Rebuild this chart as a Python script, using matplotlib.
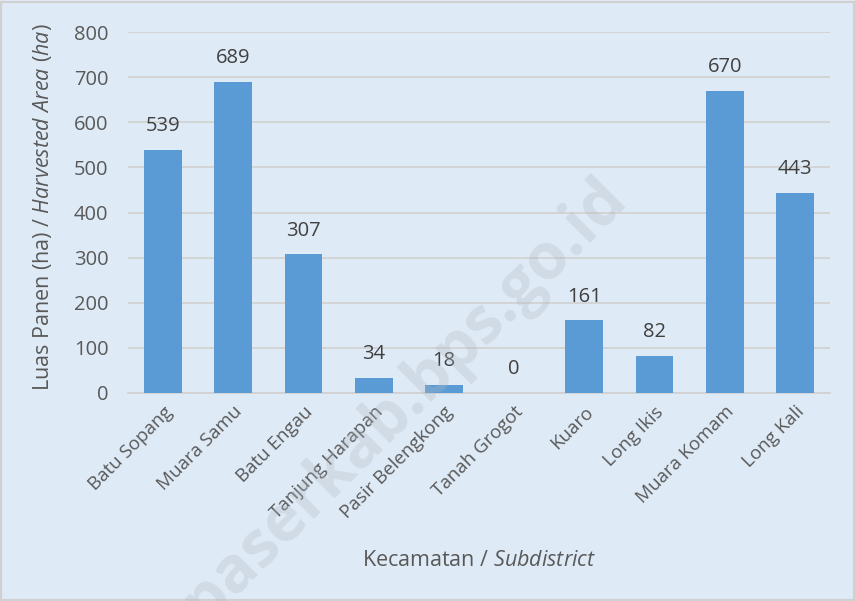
import matplotlib
matplotlib.use("Agg")
import matplotlib.pyplot as plt
from matplotlib.patches import Rectangle

categories = ["Batu Sopang", "Muara Samu", "Batu Engau", "Tanjung Harapan",
              "Pasir Belengkong", "Tanah Grogot", "Kuaro", "Long Ikis",
              "Muara Komam", "Long Kali"]
values = [539, 689, 307, 34, 18, 0, 161, 82, 670, 443]
yticks = [0, 100, 200, 300, 400, 500, 600, 700, 800]

plt.rcParams['font.family'] = ['Open Sans', 'DejaVu Sans']
plt.rcParams['mathtext.fontset'] = 'custom'
plt.rcParams['mathtext.rm'] = 'Open Sans'
plt.rcParams['mathtext.it'] = 'Open Sans:italic'

bg = '#DEEAF6'
fig = plt.figure(figsize=(8.55, 6.01), dpi=100, facecolor=bg)
fig.patches.append(Rectangle((0.001, 0.001), 0.998, 0.996, transform=fig.transFigure,
                             fill=False, edgecolor='#D0D0D0', linewidth=1.5))
ax = fig.add_axes([128/855, 1-393/601, (830-128)/855, (393-32)/601])
ax.set_facecolor(bg)

x = range(len(categories))
bars = ax.bar(x, values, width=0.54, color='#5B9BD5', zorder=3)
for xi, v in zip(x, values):
    ax.annotate(f"{v}", (xi, v), xytext=(0, 17), textcoords='offset points',
                ha='center', va='center', fontsize=14.5, color='#404040')

ax.set_xlim(-0.5, len(categories) - 0.5)
ax.set_ylim(0, 800)
ax.set_yticks(yticks)
ax.set_yticklabels([str(t) for t in yticks], fontsize=14.5, color='#595959')
ax.set_xticks(list(x))
ax.set_xticklabels(categories, rotation=45, ha='right', rotation_mode='anchor',
                   fontsize=13.5, color='#595959')
ax.tick_params(axis='y', length=0, pad=14)
ax.tick_params(axis='x', length=0, pad=7)
ax.grid(axis='y', color='#D0D0D0', linewidth=1.2, zorder=0)
for s in ['top', 'right', 'left']:
    ax.spines[s].set_visible(False)
ax.spines['bottom'].set_color('#D0D0D0')
ax.spines['bottom'].set_linewidth(1.2)

fig.text(42/855, 1-207/601, r"Luas Panen (ha) / $\mathit{Harvested\ Area\ (ha)}$",
         rotation=90, ha='center', va='center', fontsize=15.5, color='#595959')
fig.text(479/855, 1-560/601, r"Kecamatan / $\mathit{Subdistrict}$",
         ha='center', va='center', fontsize=15.5, color='#595959')

fig.text(405/855, 1-400/601, "paserkab.bps.go.id", rotation=45, ha='center', va='center',
         fontsize=46, fontweight='bold', color='#B0B8C0', alpha=0.3, zorder=10)

fig.savefig("out.png", dpi=100, facecolor=bg)
